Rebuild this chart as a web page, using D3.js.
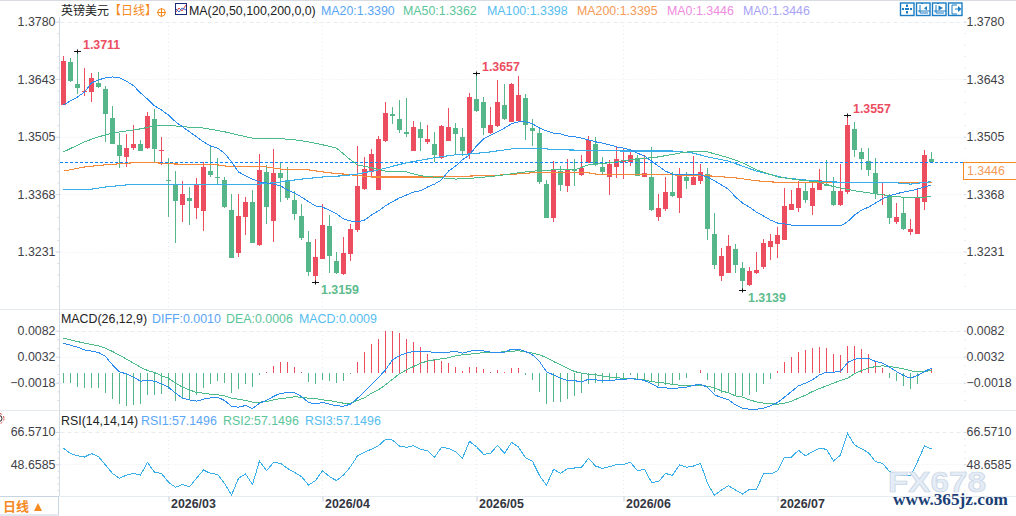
<!DOCTYPE html>
<html>
<head>
<meta charset="utf-8">
<title>英镑美元</title>
<script src="https://cdn.jsdelivr.net/npm/d3@7/dist/d3.min.js"></script>
<style>
html, body { margin: 0; padding: 0; background: #fff; overflow: hidden; }
svg { display: block; font-family: "Liberation Sans", Arial, sans-serif; }
text { font-size: 12.4px; }
.cn { font-family: "Noto Sans CJK SC", sans-serif; font-size: 12px; }
</style>
</head>
<body>
<script>
//daily candles
var openVals = [
1.3581,1.3684,1.3631,1.3612,1.3612,1.3634,1.3619,1.3550,1.3486,1.3457,
1.3478,1.3488,1.3478,1.3548,1.3471,1.3402,1.3392,1.3342,1.3359,1.3335,
1.3328,1.3423,1.3409,1.3402,1.3330,1.3228,1.3314,1.3350,1.3247,1.3421,
1.3304,1.3419,1.3402,1.3354,1.3316,1.3254,1.3173,1.3213,1.3292,1.3208,
1.3177,1.3225,1.3283,1.3380,1.3421,1.3378,1.3495,1.3560,1.3548,1.3517,
1.3471,1.3524,1.3493,1.3488,1.3455,1.3495,1.3526,1.3505,1.3464,1.3595,
1.3588,1.3514,1.3531,1.3581,1.3541,1.3543,1.3598,1.3526,1.3514,1.3392,
1.3311,1.3423,1.3388,1.3428,1.3414,1.3443,1.3488,1.3433,1.3409,1.3433,
1.3445,1.3445,1.3455,1.3409,1.3409,1.3314,1.3333,1.3373,1.3359,1.3409,
1.3390,1.3400,1.3416,1.3273,1.3173,1.3180,1.3237,1.3192,1.3151,1.3180,
1.3194,1.3242,1.3249,1.3259,1.3330,1.3335,1.3376,1.3340,1.3378,1.3392,
1.3376,1.3342,1.3373,1.3524,1.3469,1.3447,1.3419,1.3366,1.3364,1.3302,
1.3323,1.3278,1.3273,1.3350,1.3452];
var highVals = [
1.3698,1.3693,1.3711,1.3670,1.3658,1.3660,1.3627,1.3579,1.3514,1.3512,
1.3533,1.3498,1.3564,1.3572,1.3505,1.3455,1.3423,1.3400,1.3385,1.3407,
1.3445,1.3481,1.3455,1.3409,1.3369,1.3369,1.3361,1.3378,1.3464,1.3438,
1.3476,1.3443,1.3433,1.3376,1.3345,1.3280,1.3261,1.3345,1.3318,1.3230,
1.3266,1.3297,1.3483,1.3457,1.3476,1.3507,1.3588,1.3576,1.3593,1.3598,
1.3543,1.3541,1.3533,1.3517,1.3533,1.3574,1.3538,1.3526,1.3610,1.3657,
1.3600,1.3576,1.3641,1.3631,1.3634,1.3650,1.3607,1.3548,1.3529,1.3402,
1.3447,1.3435,1.3452,1.3452,1.3462,1.3507,1.3505,1.3457,1.3450,1.3483,
1.3476,1.3476,1.3462,1.3462,1.3481,1.3369,1.3409,1.3421,1.3431,1.3421,
1.3459,1.3440,1.3431,1.3323,1.3240,1.3271,1.3249,1.3206,1.3194,1.3230,
1.3261,1.3273,1.3290,1.3383,1.3378,1.3400,1.3397,1.3397,1.3428,1.3450,
1.3409,1.3440,1.3557,1.3541,1.3478,1.3478,1.3455,1.3395,1.3369,1.3347,
1.3361,1.3309,1.3383,1.3474,1.3469];
var lowVals = [
1.3581,1.3636,1.3607,1.3603,1.3588,1.3622,1.3493,1.3488,1.3431,1.3433,
1.3474,1.3471,1.3476,1.3443,1.3438,1.3314,1.3251,1.3302,1.3294,1.3309,
1.3280,1.3409,1.3392,1.3335,1.3216,1.3218,1.3271,1.3251,1.3244,1.3297,
1.3254,1.3350,1.3354,1.3306,1.3259,1.3173,1.3159,1.3213,1.3180,1.3177,
1.3175,1.3208,1.3278,1.3378,1.3412,1.3378,1.3493,1.3536,1.3514,1.3505,
1.3471,1.3471,1.3488,1.3445,1.3452,1.3495,1.3462,1.3459,1.3452,1.3564,
1.3509,1.3512,1.3529,1.3545,1.3541,1.3543,1.3498,1.3483,1.3392,1.3311,
1.3302,1.3376,1.3373,1.3388,1.3412,1.3443,1.3435,1.3414,1.3366,1.3407,
1.3404,1.3435,1.3412,1.3409,1.3328,1.3304,1.3328,1.3361,1.3323,1.3380,
1.3390,1.3392,1.3259,1.3189,1.3161,1.3180,1.3180,1.3139,1.3149,1.3177,
1.3189,1.3211,1.3216,1.3259,1.3330,1.3325,1.3347,1.3318,1.3378,1.3388,
1.3340,1.3340,1.3369,1.3457,1.3426,1.3412,1.3357,1.3342,1.3297,1.3297,
1.3283,1.3271,1.3273,1.3330,1.3443];
var closeVals = [
1.3686,1.3638,1.3622,1.3615,1.3646,1.3624,1.3560,1.3488,1.3459,1.3478,
1.3488,1.3471,1.3555,1.3476,1.3474,1.3400,1.3352,1.3369,1.3352,1.3390,
1.3433,1.3414,1.3407,1.3337,1.3216,1.3316,1.3350,1.3251,1.3426,1.3337,
1.3419,1.3407,1.3359,1.3321,1.3263,1.3182,1.3218,1.3294,1.3220,1.3180,
1.3228,1.3285,1.3388,1.3428,1.3464,1.3500,1.3562,1.3555,1.3521,1.3512,
1.3529,1.3502,1.3500,1.3462,1.3531,1.3529,1.3512,1.3471,1.3600,1.3567,
1.3526,1.3533,1.3588,1.3548,1.3631,1.3605,1.3533,1.3519,1.3397,1.3311,
1.3428,1.3390,1.3428,1.3423,1.3431,1.3498,1.3438,1.3421,1.3440,1.3452,
1.3450,1.3462,1.3412,1.3419,1.3330,1.3335,1.3373,1.3364,1.3416,1.3400,
1.3409,1.3421,1.3285,1.3199,1.3220,1.3244,1.3199,1.3161,1.3185,1.3187,
1.3251,1.3256,1.3271,1.3340,1.3345,1.3383,1.3354,1.3383,1.3402,1.3388,
1.3342,1.3376,1.3533,1.3474,1.3452,1.3426,1.3369,1.3369,1.3311,1.3314,
1.3285,1.3285,1.3361,1.3462,1.3446];

//moving averages
var ma20Vals = [
1.3581,1.3591,1.3600,1.3612,1.3634,1.3641,1.3646,1.3648,1.3646,1.3638,
1.3627,1.3610,1.3595,1.3579,1.3569,1.3557,1.3541,1.3529,1.3517,1.3505,
1.3493,1.3483,1.3478,1.3466,1.3445,1.3421,1.3412,1.3404,1.3397,1.3395,
1.3392,1.3388,1.3378,1.3371,1.3361,1.3350,1.3340,1.3337,1.3330,1.3321,
1.3309,1.3304,1.3302,1.3306,1.3318,1.3328,1.3340,1.3350,1.3359,1.3366,
1.3373,1.3376,1.3385,1.3392,1.3402,1.3423,1.3435,1.3450,1.3462,1.3483,
1.3500,1.3509,1.3517,1.3526,1.3536,1.3541,1.3541,1.3536,1.3526,1.3519,
1.3514,1.3512,1.3507,1.3505,1.3502,1.3498,1.3493,1.3490,1.3486,1.3481,
1.3478,1.3474,1.3466,1.3459,1.3447,1.3435,1.3423,1.3416,1.3416,1.3414,
1.3414,1.3414,1.3409,1.3400,1.3390,1.3380,1.3361,1.3347,1.3337,1.3325,
1.3316,1.3306,1.3299,1.3297,1.3294,1.3294,1.3294,1.3294,1.3294,1.3294,
1.3294,1.3292,1.3302,1.3318,1.3330,1.3337,1.3347,1.3357,1.3364,1.3369,
1.3373,1.3376,1.3380,1.3385,1.3390];
var ma50Bars = [0,3,5,7,9,11,13,15,17,20,23,25,27,30,33,35,37,39,41,42,44,46,49,51,54,56,59,62,65,67,70,73,75,78,81,85,88,90,92,95,97,99,102,105,108,109,111,113,116,118,121,124];
var ma50Vals = [1.3469,1.3493,1.3505,1.3514,1.3519,1.3524,1.3531,1.3533,1.3529,1.3526,1.3517,1.3509,1.3502,1.3502,1.3498,1.3493,1.3486,1.3478,1.3450,1.3438,1.3431,1.3423,1.3421,1.3412,1.3407,1.3404,1.3407,1.3412,1.3419,1.3423,1.3426,1.3426,1.3438,1.3443,1.3450,1.3457,1.3466,1.3471,1.3469,1.3455,1.3443,1.3426,1.3409,1.3402,1.3397,1.3390,1.3383,1.3376,1.3369,1.3364,1.3359,1.3362];
var ma100Bars = [0,4,6,9,13,28,31,34,37,40,42,45,49,53,56,58,61,64,67,71,80,87,90,92,95,97,99,103,107,110,119,121,124];
var ma100Vals = [1.3378,1.3380,1.3385,1.3390,1.3392,1.3392,1.3397,1.3404,1.3409,1.3412,1.3416,1.3426,1.3443,1.3455,1.3462,1.3464,1.3469,1.3476,1.3478,1.3474,1.3471,1.3471,1.3466,1.3457,1.3447,1.3435,1.3423,1.3407,1.3400,1.3397,1.3395,1.3392,1.3398];
var ma200Bars = [0,3,6,10,13,16,22,24,29,31,35,38,40,44,54,63,67,75,76,85,87,92,96,99,103,111,118,124];
var ma200Vals = [1.3423,1.3433,1.3438,1.3443,1.3443,1.3440,1.3438,1.3433,1.3433,1.3428,1.3426,1.3419,1.3416,1.3409,1.3409,1.3414,1.3419,1.3419,1.3416,1.3416,1.3414,1.3412,1.3407,1.3400,1.3395,1.3395,1.3395,1.3395];

//macd panel
var histVals = [
-.0019,-.0019,-.0026,-.0029,-.0028,-.0029,-.0037,-.0050,-.0058,-.0063,
-.0060,-.0058,-.0042,-.0042,-.0040,-.0031,-.0054,-.0050,-.0050,-.0042,
-.0029,-.0021,-.0015,-.0019,-.0037,-.0031,-.0021,-.0026,-.0003,.0003,
.0015,.0022,.0022,.0013,.0003,-.0017,-.0021,-.0012,-.0015,-.0019,
-.0015,-.0002,.0022,.0041,.0056,.0067,.0081,.0081,.0077,.0067,
.0060,.0050,.0038,.0025,.0023,.0019,.0013,.0004,.0013,.0013,
.0008,.0002,.0006,.0002,.0010,.0010,-.0004,-.0012,-.0035,-.0058,
-.0056,-.0056,-.0050,-.0044,-.0037,-.0021,-.0019,-.0019,-.0015,-.0012,
-.0012,-.0004,-.0012,-.0012,-.0015,-.0025,-.0023,-.0021,-.0012,-.0008,
.0001,.0006,-.0012,-.0035,-.0038,-.0035,-.0042,-.0044,-.0042,-.0035,
-.0021,-.0010,.0004,.0021,.0031,.0042,.0044,.0048,.0050,.0048,
.0038,.0035,.0052,.0052,.0046,.0037,.0021,.0010,-.0008,-.0015,
-.0025,-.0031,-.0021,.0001,.0009];
var diffVals = [
.00580,.00542,.00503,.00452,.00426,.00401,.00324,.00163,.00029,-.00010,
-.00074,-.00151,-.00138,-.00151,-.00202,-.00266,-.00381,-.00478,-.00510,-.00535,
-.00497,-.00471,-.00458,-.00522,-.00631,-.00651,-.00619,-.00676,-.00574,-.00522,
-.00445,-.00381,-.00375,-.00375,-.00445,-.00561,-.00587,-.00561,-.00593,-.00625,
-.00631,-.00593,-.00478,-.00349,-.00221,-.00080,.00067,.00260,.00343,.00388,
.00420,.00426,.00420,.00401,.00394,.00407,.00420,.00388,.00426,.00445,
.00433,.00407,.00407,.00407,.00465,.00465,.00420,.00356,.00228,.00029,
-.00029,-.00093,-.00138,-.00138,-.00170,-.00112,-.00125,-.00144,-.00144,-.00125,
-.00112,-.00106,-.00112,-.00138,-.00202,-.00272,-.00279,-.00292,-.00279,-.00266,
-.00228,-.00215,-.00266,-.00413,-.00465,-.00510,-.00606,-.00670,-.00689,-.00689,
-.00670,-.00625,-.00561,-.00458,-.00349,-.00240,-.00189,-.00125,-.00029,.00022,
.00022,.00035,.00208,.00272,.00292,.00292,.00228,.00196,.00119,.00035,
-.00042,-.00093,-.00042,.00035,.00100];
var deaVals = [
.00676,.00644,.00612,.00580,.00554,.00529,.00484,.00420,.00349,.00272,
.00196,.00119,.00054,.00016,-.00048,-.00093,-.00189,-.00266,-.00317,-.00369,
-.00381,-.00401,-.00413,-.00433,-.00478,-.00497,-.00522,-.00554,-.00554,-.00542,
-.00510,-.00484,-.00471,-.00452,-.00458,-.00478,-.00484,-.00510,-.00522,-.00548,
-.00574,-.00574,-.00522,-.00471,-.00381,-.00317,-.00221,-.00112,-.00010,.00067,
.00131,.00196,.00234,.00260,.00279,.00298,.00337,.00356,.00369,.00388,
.00394,.00401,.00407,.00413,.00426,.00433,.00413,.00388,.00356,.00304,
.00228,.00163,.00099,.00035,.00003,-.00016,-.00029,-.00048,-.00074,-.00087,
-.00093,-.00099,-.00112,-.00125,-.00157,-.00176,-.00189,-.00215,-.00228,-.00228,
-.00228,-.00228,-.00247,-.00279,-.00337,-.00375,-.00433,-.00458,-.00510,-.00548,
-.00574,-.00587,-.00593,-.00574,-.00535,-.00478,-.00420,-.00349,-.00292,-.00240,
-.00189,-.00138,-.00093,-.00010,.00054,.00099,.00131,.00144,.00131,.00112,
.00087,.00048,.00029,.00029,.00060];

//rsi panel
var rsiVals = [
57.5,54.7,53.4,52.7,54.6,52.9,48.3,43.6,40.9,42.7,
43.6,42.7,49.7,44.2,43.6,38.7,35.9,37.5,36.2,40.9,
45.5,43.6,43.1,38.1,31.6,40.9,43.3,37.5,50.5,45.1,
49.7,49.2,46.4,44.2,41.8,37.2,39.6,45.1,41.8,39.6,
42.7,47.3,53.4,55.3,57.1,59.0,62.5,62.1,58.8,58.1,
59.0,57.0,56.2,52.5,58.1,57.5,55.7,52.0,61.4,58.4,
54.2,54.7,59.2,54.7,60.8,58.2,52.3,50.3,42.4,37.0,
45.9,43.6,46.2,46.6,47.0,52.0,47.7,46.4,47.3,48.6,
48.6,49.7,45.1,45.9,38.7,39.0,43.6,42.5,48.3,47.0,
47.7,49.2,38.1,31.4,34.4,36.8,34.4,32.2,34.8,34.8,
43.3,43.3,45.0,52.7,52.7,56.4,53.3,55.7,57.5,57.0,
50.5,53.8,65.8,59.4,57.3,55.1,50.1,49.2,44.6,43.6,
42.2,42.2,50.1,58.8,57.15];

//axis labels
var priceTicks = [1.3780,1.3643,1.3505,1.3368,1.3231];
var macdTicks = [.0082,.0032,-.0018];
var rsiTicks = [66.5710,48.6585];
var monthBars = [15,37,59,80,102];
var monthLabels = ["2026/03","2026/04","2026/05","2026/06","2026/07"];

//highest and lowest bars that carry a label
var markBars = [2,59,112,36,97];
var markVals = [1.3711,1.3657,1.3557,1.3159,1.3139];
var lastPrice = 1.3446;

var width = 1016, height = 516;
var red = "#ec4e5f", green = "#54b689", gridColor = "#e9ecef", axisColor = "#d4dce6", textColor = "#3f3f48";

var svg = d3.select("body").append("svg")
	.attr("width", width)
	.attr("height", height);

var x = d3.scaleLinear().domain([0,124]).range([63.5,931.5]);
var y = d3.scaleLinear().domain([1.3231,1.3780]).range([251.5,21.7]);
var yMacd = d3.scaleLinear().domain([-.0018,.0082]).range([382.7,330.7]);
var yRsi = d3.scaleLinear().domain([48.6585,66.5710]).range([464.3,432]);

//small ticks between the labelled ones
var priceMinor = d3.range(24).map(function(i){ return 1.3780 - i*(1.3780-1.3231)/20; });
var macdMinor = d3.range(9).map(function(i){ return .0082 - i*.005/3; });
var rsiMinor = d3.range(10).map(function(i){ return 66.5710 - i*(66.5710-48.6585)/5; });

var plotLeft = 59.5, plotRight = 963.5;

//top bar and panel separators
svg.append("line").attr("x1",0).attr("x2",width).attr("y1",.5).attr("y2",.5).attr("stroke","#d9dbe3");
[309.5,410.5,496.5].forEach(function(p){
	svg.append("line").attr("x1",0).attr("x2",width).attr("y1",p).attr("y2",p).attr("stroke","#e6ebf0");
});
svg.append("line").attr("x1",plotLeft).attr("x2",plotLeft).attr("y1",17).attr("y2",496).attr("stroke",axisColor);

//horizontal grid for one panel, first line dashed a bit stronger
function hGrid(scale, ticks){
	svg.append("g").selectAll("line").data(ticks).enter().append("line")
		.attr("x1",plotLeft+1).attr("x2",plotRight)
		.attr("y1",function(d){ return Math.round(scale(d))+.5; })
		.attr("y2",function(d){ return Math.round(scale(d))+.5; })
		.attr("stroke",gridColor)
		.attr("stroke-dasharray",function(d,i){ return i==0 ? "4,3" : "1,2"; });
}
hGrid(y,priceTicks);
hGrid(yMacd,macdTicks);
hGrid(yRsi,rsiTicks);

//month grid
monthBars.forEach(function(b){
	[[22,309],[311,410],[412,496]].forEach(function(seg){
		svg.append("line")
			.attr("x1",x(b)).attr("x2",x(b)).attr("y1",seg[0]).attr("y2",seg[1])
			.attr("stroke",gridColor).attr("stroke-dasharray","1,3");
	});
});

//axes on both sides
function addAxes(scale, ticks, minor, fmt){
	var left = svg.append("g").attr("transform","translate("+(plotLeft+1)+",0)")
		.call(d3.axisLeft(scale).tickValues(ticks).tickSize(5).tickPadding(0).tickFormat(d3.format(fmt)));
	var right = svg.append("g").attr("transform","translate("+plotRight+",0)")
		.call(d3.axisRight(scale).tickValues(ticks).tickSize(3).tickPadding(0).tickFormat(d3.format(fmt)));
	svg.append("g").attr("transform","translate("+plotLeft+",0)")
		.call(d3.axisLeft(scale).tickValues(minor).tickSize(2).tickFormat(""));
	svg.append("g").attr("transform","translate("+(plotRight+1)+",0)")
		.call(d3.axisRight(scale).tickValues(minor).tickSize(1).tickFormat(""));
	svg.selectAll(".domain").remove();
	svg.selectAll(".tick line").attr("stroke",axisColor);
	left.selectAll("text").attr("font-family","Liberation Sans").attr("fill",textColor);
	right.selectAll("text").attr("font-family","Liberation Sans").attr("fill",textColor);
}
addAxes(y,priceTicks,priceMinor,".4f");
addAxes(yMacd,macdTicks,macdMinor,".4f");
addAxes(yRsi,rsiTicks,rsiMinor,".4f");

//bottom axis
var monthAxis = svg.append("g").attr("transform","translate(0,496.5)")
	.call(d3.axisBottom(x).tickValues(monthBars).tickSize(5).tickFormat(function(d,i){ return monthLabels[i]; }));
monthAxis.select(".domain").remove();
monthAxis.selectAll("line").attr("stroke","#c4cbd4");
monthAxis.selectAll("text")
	.attr("text-anchor","start").attr("dx",2).attr("y",3).attr("dy",".71em")
	.attr("font-weight","bold").attr("font-family","Liberation Sans").attr("fill","#33363f");

//candles
var bars = d3.range(closeVals.length);
var candles = svg.append("g").attr("shape-rendering","crispEdges");
candles.selectAll(".wick").data(bars).enter().append("line")
	.attr("class","wick")
	.attr("x1",function(i){ return x(i); })
	.attr("x2",function(i){ return x(i); })
	.attr("y1",function(i){ return y(highVals[i]); })
	.attr("y2",function(i){ return y(lowVals[i]); })
	.attr("stroke",function(i){ return closeVals[i]>=openVals[i] ? red : green; });
candles.selectAll(".body").data(bars).enter().append("rect")
	.attr("class","body")
	.attr("x",function(i){ return x(i)-2.5; })
	.attr("width",5)
	.attr("y",function(i){ return y(Math.max(openVals[i],closeVals[i])); })
	.attr("height",function(i){ return Math.max(1,Math.abs(y(openVals[i])-y(closeVals[i]))); })
	.attr("fill",function(i){ return closeVals[i]>=openVals[i] ? red : green; });

//current price line
svg.append("line")
	.attr("x1",plotLeft).attr("x2",plotRight)
	.attr("y1",162.5).attr("y2",162.5)
	.attr("stroke","#0a84ff").attr("stroke-dasharray","3,2")
	.attr("shape-rendering","crispEdges");

//moving average lines, no smoothing, the reference steps from pixel to pixel
function drawLine(barList, vals, scale, color, w){
	var line = d3.line()
		.x(function(d,i){ return x(barList[i]); })
		.y(function(d){ return scale(d); });
	svg.append("path").datum(vals)
		.attr("d",line)
		.attr("fill","none")
		.attr("stroke",color)
		.attr("stroke-width",w)
		.attr("shape-rendering","crispEdges");
}
drawLine(ma200Bars,ma200Vals,y,"#f5883a",1.1);
drawLine(ma100Bars,ma100Vals,y,"#38aeea",1.1);
drawLine(ma50Bars,ma50Vals,y,"#4cbb8a",1);
drawLine(bars,ma20Vals,y,"#2b8cf0",1);

//high/low markers
var marks = svg.append("g");
markBars.forEach(function(b,i){
	var cy = Math.round(y(markVals[i]))+.5, up = i<3;
	marks.append("path")
		.attr("d","M"+(x(b)-3.5)+","+cy+"H"+(x(b)+3.5)+"M"+x(b)+","+(cy-2)+"V"+(cy+2))
		.attr("stroke","#111").attr("fill","none");
	marks.append("text")
		.attr("x",x(b)+5.5)
		.attr("y",up ? cy-3 : cy+11)
		.attr("font-weight","bold")
		.attr("fill",up ? red : "#5dbb8c")
		.text(d3.format(".4f")(markVals[i]));
});

//macd histogram and lines
var macdBars = svg.append("g").attr("shape-rendering","crispEdges");
macdBars.selectAll("line").data(bars).enter().append("line")
	.attr("x1",function(i){ return x(i); })
	.attr("x2",function(i){ return x(i); })
	.attr("y1",yMacd(0))
	.attr("y2",function(i){ return yMacd(histVals[i]); })
	.attr("stroke",function(i){ return histVals[i]>=0 ? red : green; });
drawLine(bars,deaVals,yMacd,"#4cbb8a",1);
drawLine(bars,diffVals,yMacd,"#2b8cf0",1);

//rsi line
drawLine(bars,rsiVals,yRsi,"#38aeea",1);

//header text
function label(px, py, str, color, extra){
	var t = svg.append("text").attr("x",px).attr("y",py).attr("fill",color).text(str);
	if(extra) t.attr("class",extra);
	return t;
}
label(61,15,"英镑美元","#222","cn");
label(109,15,"【日线】","#f58a1f","cn");
svg.append("circle").attr("cx",161.5).attr("cy",12.5).attr("r",3.8).attr("fill","none").attr("stroke","#f58a1f");
svg.append("path").attr("d","M157,12.5H166M161.5,8V17").attr("stroke","#f58a1f");
//small ma icon
svg.append("rect").attr("x",175.5).attr("y",3.5).attr("width",11).attr("height",11).attr("fill","#fff").attr("stroke","#1c2a7a");
svg.append("path").attr("d","M176,12L179,8L182,11L186,5").attr("fill","none").attr("stroke","#e0403c");
svg.append("path").attr("d","M176,9L179,12L182,8L186,10").attr("fill","none").attr("stroke","#2b6fd0");
label(189,15,"MA(20,50,100,200,0,0)","#222");
label(321,15,"MA20:1.3390","#5aa5f5");
label(403,15,"MA50:1.3362","#5bc59a");
label(487,15,"MA100:1.3398","#55bdf0");
label(577,15,"MA200:1.3395","#f79a58");
label(667,15,"MA0:1.3446","#ef8be0");
label(743,15,"MA0:1.3446","#a9a3f8");

label(61,323,"MACD(26,12,9)","#222");
label(152,323,"DIFF:0.0010","#5aa5f5");
label(226,323,"DEA:0.0006","#5bc59a");
label(299,323,"MACD:0.0009","#55bdf0");

label(61,425,"RSI(14,14,14)","#222");
label(141,425,"RSI1:57.1496","#5aa5f5");
label(223,425,"RSI2:57.1496","#5bc59a");
label(305,425,"RSI3:57.1496","#55bdf0");

//toolbar buttons, top right
var btnColor = "#1b7cc4";
var btnThin = [
	"",
	"M920,5V13H928M918,11H930M921,3.5H923",
	"M936,5V13H944M934,11H946M937,3.5H939",
	"M952,5V14M952,5H957M952,14H957M955,9H958"
];
var btnFilled = [
	"M905,8H909V10H905ZM906,4.5H908V7H906ZM906,11H908V13.5H906ZM902,8H904V10H902ZM910,8H912V10H910Z",
	"M927,6V10.5L924,8.2Z",
	"M938.5,5.5V10.5L943,8Z",
	"M958,6V12L961.5,9Z"
];
[900,916,932,948].forEach(function(bx,i){
	svg.append("rect").attr("x",bx+.5).attr("y",3).attr("width",13.5).attr("height",12.5)
		.attr("fill","#fff").attr("stroke",btnColor).attr("stroke-width",1.4);
	svg.append("path").attr("d",btnThin[i]).attr("fill","none").attr("stroke",btnColor);
	svg.append("path").attr("d",btnFilled[i]).attr("fill",btnColor);
});

//price box on the right
svg.append("rect").attr("x",963.5).attr("y",162.5).attr("width",60).attr("height",17)
	.attr("fill","#fff").attr("stroke","#f58a1f");
label(967,175,d3.format(".4f")(lastPrice),"#f79a58");

//corner button for the period
svg.append("rect").attr("x",-1).attr("y",496.5).attr("width",59.5).attr("height",18.5)
	.attr("fill","#fff").attr("stroke","#c8d4e0");
label(3,511,"日线","#f58a1f","cn").attr("font-weight","bold").style("font-size","13px");
svg.append("path").attr("d","M34,511L38,503L42,511Z").attr("fill","#f58a1f");

//half hidden settings icon at the left edge
svg.append("circle").attr("cx",-1).attr("cy",418.5).attr("r",3).attr("fill","none").attr("stroke","#222");
svg.append("circle").attr("cx",-1).attr("cy",418.5).attr("r",5).attr("fill","none").attr("stroke","#e0403c").attr("stroke-dasharray","2,2");

//watermark
svg.append("text").attr("x",888).attr("y",492).attr("textLength",98).attr("lengthAdjust","spacingAndGlyphs")
	.attr("font-weight","bold").style("font-size","30px")
	.attr("fill","#e2ebf6").attr("stroke","#c3d0e2").attr("stroke-width",.7).attr("opacity",.92).text("FX678");
svg.append("text").attr("x",893).attr("y",505).attr("textLength",115).attr("lengthAdjust","spacingAndGlyphs")
	.attr("font-weight","bold").attr("font-family","Liberation Serif").style("font-size","17px").attr("fill","#1c3f77").text("www.365jz.com");
</script>
</body>
</html>
